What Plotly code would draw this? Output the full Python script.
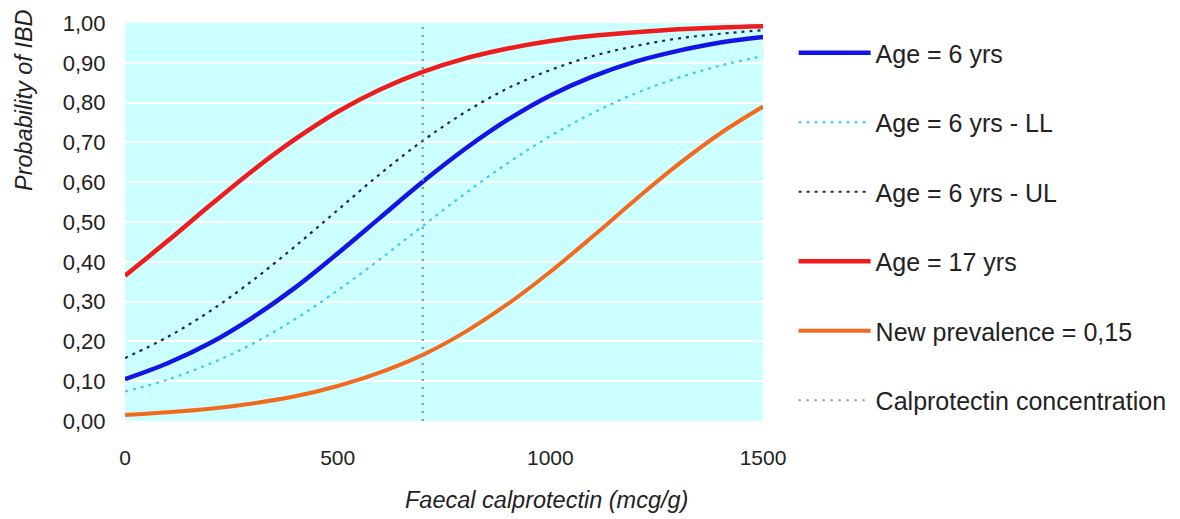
import plotly.graph_objects as go

# Faecal calprotectin (mcg/g)
calprotectin = [0, 100, 200, 300, 400, 500, 600, 700, 800, 900, 1000, 1100, 1200, 1300, 1400, 1500]

age6 = [0.105, 0.145, 0.196, 0.260, 0.335, 0.421, 0.511, 0.601, 0.684, 0.757, 0.818, 0.866, 0.903, 0.930, 0.951, 0.965]
age6_ll = [0.074, 0.104, 0.144, 0.194, 0.256, 0.328, 0.407, 0.490, 0.572, 0.648, 0.716, 0.774, 0.823, 0.862, 0.893, 0.917]
age6_ul = [0.158, 0.211, 0.276, 0.353, 0.439, 0.530, 0.621, 0.704, 0.776, 0.836, 0.882, 0.917, 0.942, 0.961, 0.973, 0.982]
age17 = [0.365, 0.452, 0.542, 0.629, 0.708, 0.777, 0.833, 0.877, 0.911, 0.936, 0.955, 0.968, 0.977, 0.984, 0.989, 0.992]
new_prev = [0.015, 0.022, 0.031, 0.044, 0.062, 0.088, 0.122, 0.166, 0.224, 0.294, 0.375, 0.464, 0.556, 0.644, 0.723, 0.790]

cut_x = [700, 700]
cut_y = [0.0, 1.0]

y_ticks = [0.0, 0.1, 0.2, 0.3, 0.4, 0.5, 0.6, 0.7, 0.8, 0.9, 1.0]
y_tick_labels = ["0,00", "0,10", "0,20", "0,30", "0,40", "0,50", "0,60", "0,70", "0,80", "0,90", "1,00"]
x_ticks = [0, 500, 1000, 1500]
x_tick_labels = ["0", "500", "1000", "1500"]

FONT = "Liberation Sans, Arial, sans-serif"
TXT = "#222222"

fig = go.Figure()

series = [
    ("Age = 6 yrs", age6, dict(color="#1414E6", width=4.5)),
    ("Age = 6 yrs - LL", age6_ll, dict(color="#3FCBEA", width=2.2, dash="3px,5px")),
    ("Age = 6 yrs - UL", age6_ul, dict(color="#1C2466", width=2.2, dash="3px,5px")),
    ("Age = 17 yrs", age17, dict(color="#EE1C1C", width=4.5)),
    ("New prevalence = 0,15", new_prev, dict(color="#F26A1E", width=4)),
]
for i, (name, ys, line) in enumerate(series):
    fig.add_trace(go.Scatter(
        x=calprotectin, y=ys, name=name, mode="lines",
        line=dict(shape="spline", smoothing=1.0, **line),
        legendgroup=f"g{i}",
    ))

fig.add_trace(go.Scatter(
    x=cut_x, y=cut_y, name="Calprotectin concentration", mode="lines",
    line=dict(color="#8A9494", width=2.2, dash="2px,6px"),
    legendgroup="g5",
))

fig.update_layout(
    width=1180, height=519,
    margin=dict(l=125, r=417, t=23, b=98, autoexpand=False),
    paper_bgcolor="white",
    plot_bgcolor="rgb(204,255,255)",
    font=dict(family=FONT, size=22, color=TXT),
    showlegend=True,
    legend=dict(
        x=1.048, xanchor="left", y=(421 - 30) / 398, yanchor="top",
        traceorder="grouped", tracegroupgap=34,
        itemwidth=72, font=dict(size=25, family=FONT, color=TXT),
        bgcolor="rgba(0,0,0,0)", maxheight=510,
    ),
    xaxis=dict(
        range=[0, 1500], tickvals=x_ticks, ticktext=x_tick_labels,
        showgrid=False, zeroline=False, showline=False,
        ticks="outside", ticklen=18, tickcolor="rgba(0,0,0,0)",
        tickfont=dict(size=21),
    ),
    yaxis=dict(
        range=[0, 1.0], tickvals=y_ticks, ticktext=y_tick_labels,
        showgrid=True, gridcolor="white", gridwidth=2,
        zeroline=False, showline=False,
        ticks="outside", ticklen=14, tickcolor="rgba(0,0,0,0)",
        tickfont=dict(size=22),
    ),
    annotations=[
        dict(text="<i>Probability of IBD</i>", textangle=-90,
             xref="paper", yref="paper", x=(24 - 125) / 638, y=(421 - 100) / 398,
             xanchor="center", yanchor="middle", showarrow=False,
             font=dict(size=23.5, family=FONT, color=TXT)),
        dict(text="<i>Faecal calprotectin (mcg/g)</i>",
             xref="paper", yref="paper", x=(546 - 125) / 638, y=(421 - 500) / 398,
             xanchor="center", yanchor="middle", showarrow=False,
             font=dict(size=23.5, family=FONT, color=TXT)),
    ],
)

fig.write_html("out.html")
